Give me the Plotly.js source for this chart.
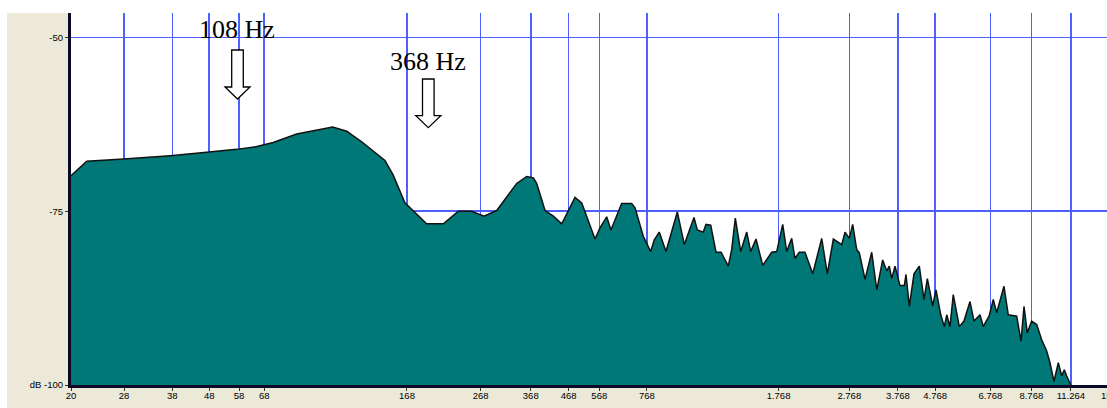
<!DOCTYPE html>
<html>
<head>
<meta charset="utf-8">
<script src="https://cdn.plot.ly/plotly-3.0.1.min.js"></script>
<style>
  html, body { margin: 0; padding: 0; background: #ffffff; width: 1107px; height: 408px; overflow: hidden; }
  #chart { position: absolute; left: 7px; top: 13px; width: 1100px; height: 395px; }
</style>
</head>
<body>
<div id="chart"></div>
<script>
// Spectrum envelope: frequency (Hz) and level (dB)
const freqHz = [20, 22.1, 27.9, 37.5, 47.2, 57.1, 64.9, 72.0, 83.5, 92.8,
  104.9, 114.7, 126.1, 146.1, 154.0, 165.8, 174.8, 190.3, 211.5, 232.6,
  253.2, 273.6, 296.6, 336.6, 358.6, 374.0, 382.0, 402.8, 424.6, 447.8,
  487.0, 508.2, 552.8, 570.6, 595.2, 611.6, 654.6, 697.4, 712.2, 750.6,
  786.6, 804.8, 830.6, 866.6, 931.2, 973.4, 1034.8, 1056.8, 1097.6, 1116.8,
  1150.6, 1190, 1228.4, 1286.2, 1314.4, 1344.6, 1391.2, 1445.4, 1482.2, 1532.8,
  1599.6, 1693.2, 1747.8, 1815.4, 1862, 1921.8, 1962, 2016, 2090, 2196,
  2324, 2408, 2502, 2638, 2694, 2768, 2828, 2900, 2950, 3058,
  3190, 3294, 3420, 3508, 3566, 3622, 3698, 3816, 3922, 3964,
  4048, 4170, 4312, 4444, 4538, 4694, 4794, 4940, 5054, 5132,
  5238, 5348, 5556, 5724, 5946, 6098, 6334, 6468, 6718, 6890,
  7040, 7374, 7576, 7822, 7992, 8214, 8370, 8548, 8788, 9070,
  9362, 9664, 9868, 10120, 10402, 10628, 10806, 10970, 11152, 11264];

const levelDb = [-69.9, -67.8, -67.5, -67.0, -66.5, -66.1, -65.7, -65.1, -63.9, -63.4,
  -62.9, -63.5, -65.0, -67.7, -69.8, -73.8, -75.0, -76.8, -76.8, -75.0,
  -75.0, -75.7, -74.9, -71.0, -70.0, -70.2, -71.0, -74.9, -75.7, -76.8,
  -73.0, -73.8, -79.0, -77.4, -75.8, -77.7, -73.9, -73.9, -74.5, -78.6,
  -80.8, -79.1, -78.0, -80.8, -75.1, -79.8, -75.9, -77.7, -78.0, -76.9,
  -77.0, -80.9, -80.9, -82.9, -80.5, -76.0, -80.8, -78.0, -80.8, -79.0,
  -82.8, -80.9, -80.8, -76.9, -80.8, -78.9, -81.8, -80.9, -80.9, -84.0,
  -78.9, -84.0, -79.0, -79.8, -78.0, -78.9, -76.9, -80.5, -81.0, -84.8,
  -80.9, -86.3, -82.0, -83.6, -82.9, -84.7, -82.9, -85.7, -85.7, -84.1,
  -88.7, -84.0, -82.9, -87.7, -84.7, -88.6, -86.3, -89.9, -91.6, -89.9,
  -91.6, -87.0, -91.6, -90.8, -88.0, -90.8, -89.9, -91.6, -90.0, -87.7,
  -89.6, -85.8, -89.9, -90.0, -90.1, -93.7, -88.7, -92.5, -90.8, -91.3,
  -93.5, -95.1, -96.8, -99.5, -96.8, -98.7, -97.8, -98.7, -99.7, -100];

// Axis ticks
const tickHz = [20, 28, 38, 48, 58, 68, 168, 268, 368, 468, 568, 768,
  1768, 2768, 3768, 4768, 6768, 8768, 11264];
const tickLabels = ['20', '28', '38', '48', '58', '68', '168', '268', '368', '468', '568', '768',
  '1.768', '2.768', '3.768', '4.768', '6.768', '8.768', '11.264'];
const dbTicks = [-50, -75, -100];
const dbLabels = ['-50', '-75', 'dB -100'];

// Callouts
const calloutText = ['108 Hz', '368 Hz'];

// Plot-area size in pixels, used to place callouts
const PW = 1036, PH = 372;
const fx = x => x / PW;
const fy = y => 1 - y / PH;

function blockArrow(cx, top, tip) {
  const sw = 5.8, hw = 12.5, hh = 12;
  const hs = tip - hh;
  const pts = [
    [cx - sw, top], [cx + sw, top], [cx + sw, hs], [cx + hw, hs],
    [cx, tip], [cx - hw, hs], [cx - sw, hs]
  ];
  return 'M' + pts.map(p => fx(p[0]).toFixed(5) + ',' + fy(p[1]).toFixed(5)).join(' L') + ' Z';
}

const arrows = [
  { cx: 166.5, top: 37, tip: 86 },
  { cx: 357.3, top: 66, tip: 114.7 }
];
const labelPos = [
  { x: 165.5, y: 17 },
  { x: 356.5, y: 48.6 }
];

const baseline = {
  x: [freqHz[0], freqHz[freqHz.length - 1]],
  y: [-100, -100],
  mode: 'lines',
  line: { width: 0 },
  hoverinfo: 'skip',
  showlegend: false
};

const spectrum = {
  x: freqHz,
  y: levelDb,
  mode: 'lines',
  fill: 'tonexty',
  fillcolor: '#007878',
  line: { color: '#111111', width: 1.5 },
  showlegend: false
};

const tickFont = { family: 'Liberation Sans, Arial, sans-serif', size: 9.5, color: '#000000' };
const gridBlue = '#4d5fff';

const layout = {
  width: 1100,
  height: 395,
  margin: { l: 64, r: 0, t: 0, b: 23, pad: 0 },
  paper_bgcolor: '#ECE9D8',
  plot_bgcolor: '#ffffff',
  showlegend: false,
  xaxis: {
    type: 'log',
    range: [Math.log10(20), 4.1511],
    tickmode: 'array',
    tickvals: tickHz,
    ticktext: tickLabels,
    tickangle: 0,
    showgrid: true,
    gridcolor: gridBlue,
    gridwidth: 1.5,
    zeroline: false,
    showline: true,
    linecolor: '#0a0a28',
    linewidth: 3,
    ticks: 'outside',
    ticklen: 3,
    tickcolor: '#333333',
    tickfont: tickFont,
    ticklabelstandoff: -3,
    fixedrange: true
  },
  yaxis: {
    range: [-100, -46.48],
    tickmode: 'array',
    tickvals: dbTicks,
    ticktext: dbLabels,
    showgrid: true,
    gridcolor: gridBlue,
    gridwidth: 1.5,
    zeroline: false,
    showline: true,
    linecolor: '#0a0a28',
    linewidth: 3,
    ticks: 'outside',
    ticklen: 3,
    tickcolor: '#333333',
    tickfont: tickFont,
    fixedrange: true
  },
  shapes: arrows.map(a => ({
    type: 'path',
    xref: 'paper',
    yref: 'paper',
    path: blockArrow(a.cx, a.top, a.tip),
    line: { color: '#000000', width: 1.3 },
    fillcolor: '#ffffff',
    layer: 'above'
  })),
  annotations: calloutText.map((t, i) => ({
    text: t,
    xref: 'paper',
    yref: 'paper',
    x: fx(labelPos[i].x),
    y: fy(labelPos[i].y),
    xanchor: 'center',
    yanchor: 'middle',
    showarrow: false,
    font: { family: 'Liberation Serif, Times New Roman, serif', size: 26, color: '#000000' }
  })).concat([{
    text: '15.000',
    xref: 'paper',
    yref: 'paper',
    x: fx(1044.7),
    y: fy(382.7),
    xanchor: 'center',
    yanchor: 'middle',
    showarrow: false,
    font: tickFont
  }])
};

Plotly.newPlot('chart', [baseline, spectrum], layout, { staticPlot: true, displayModeBar: false });
</script>
</body>
</html>
